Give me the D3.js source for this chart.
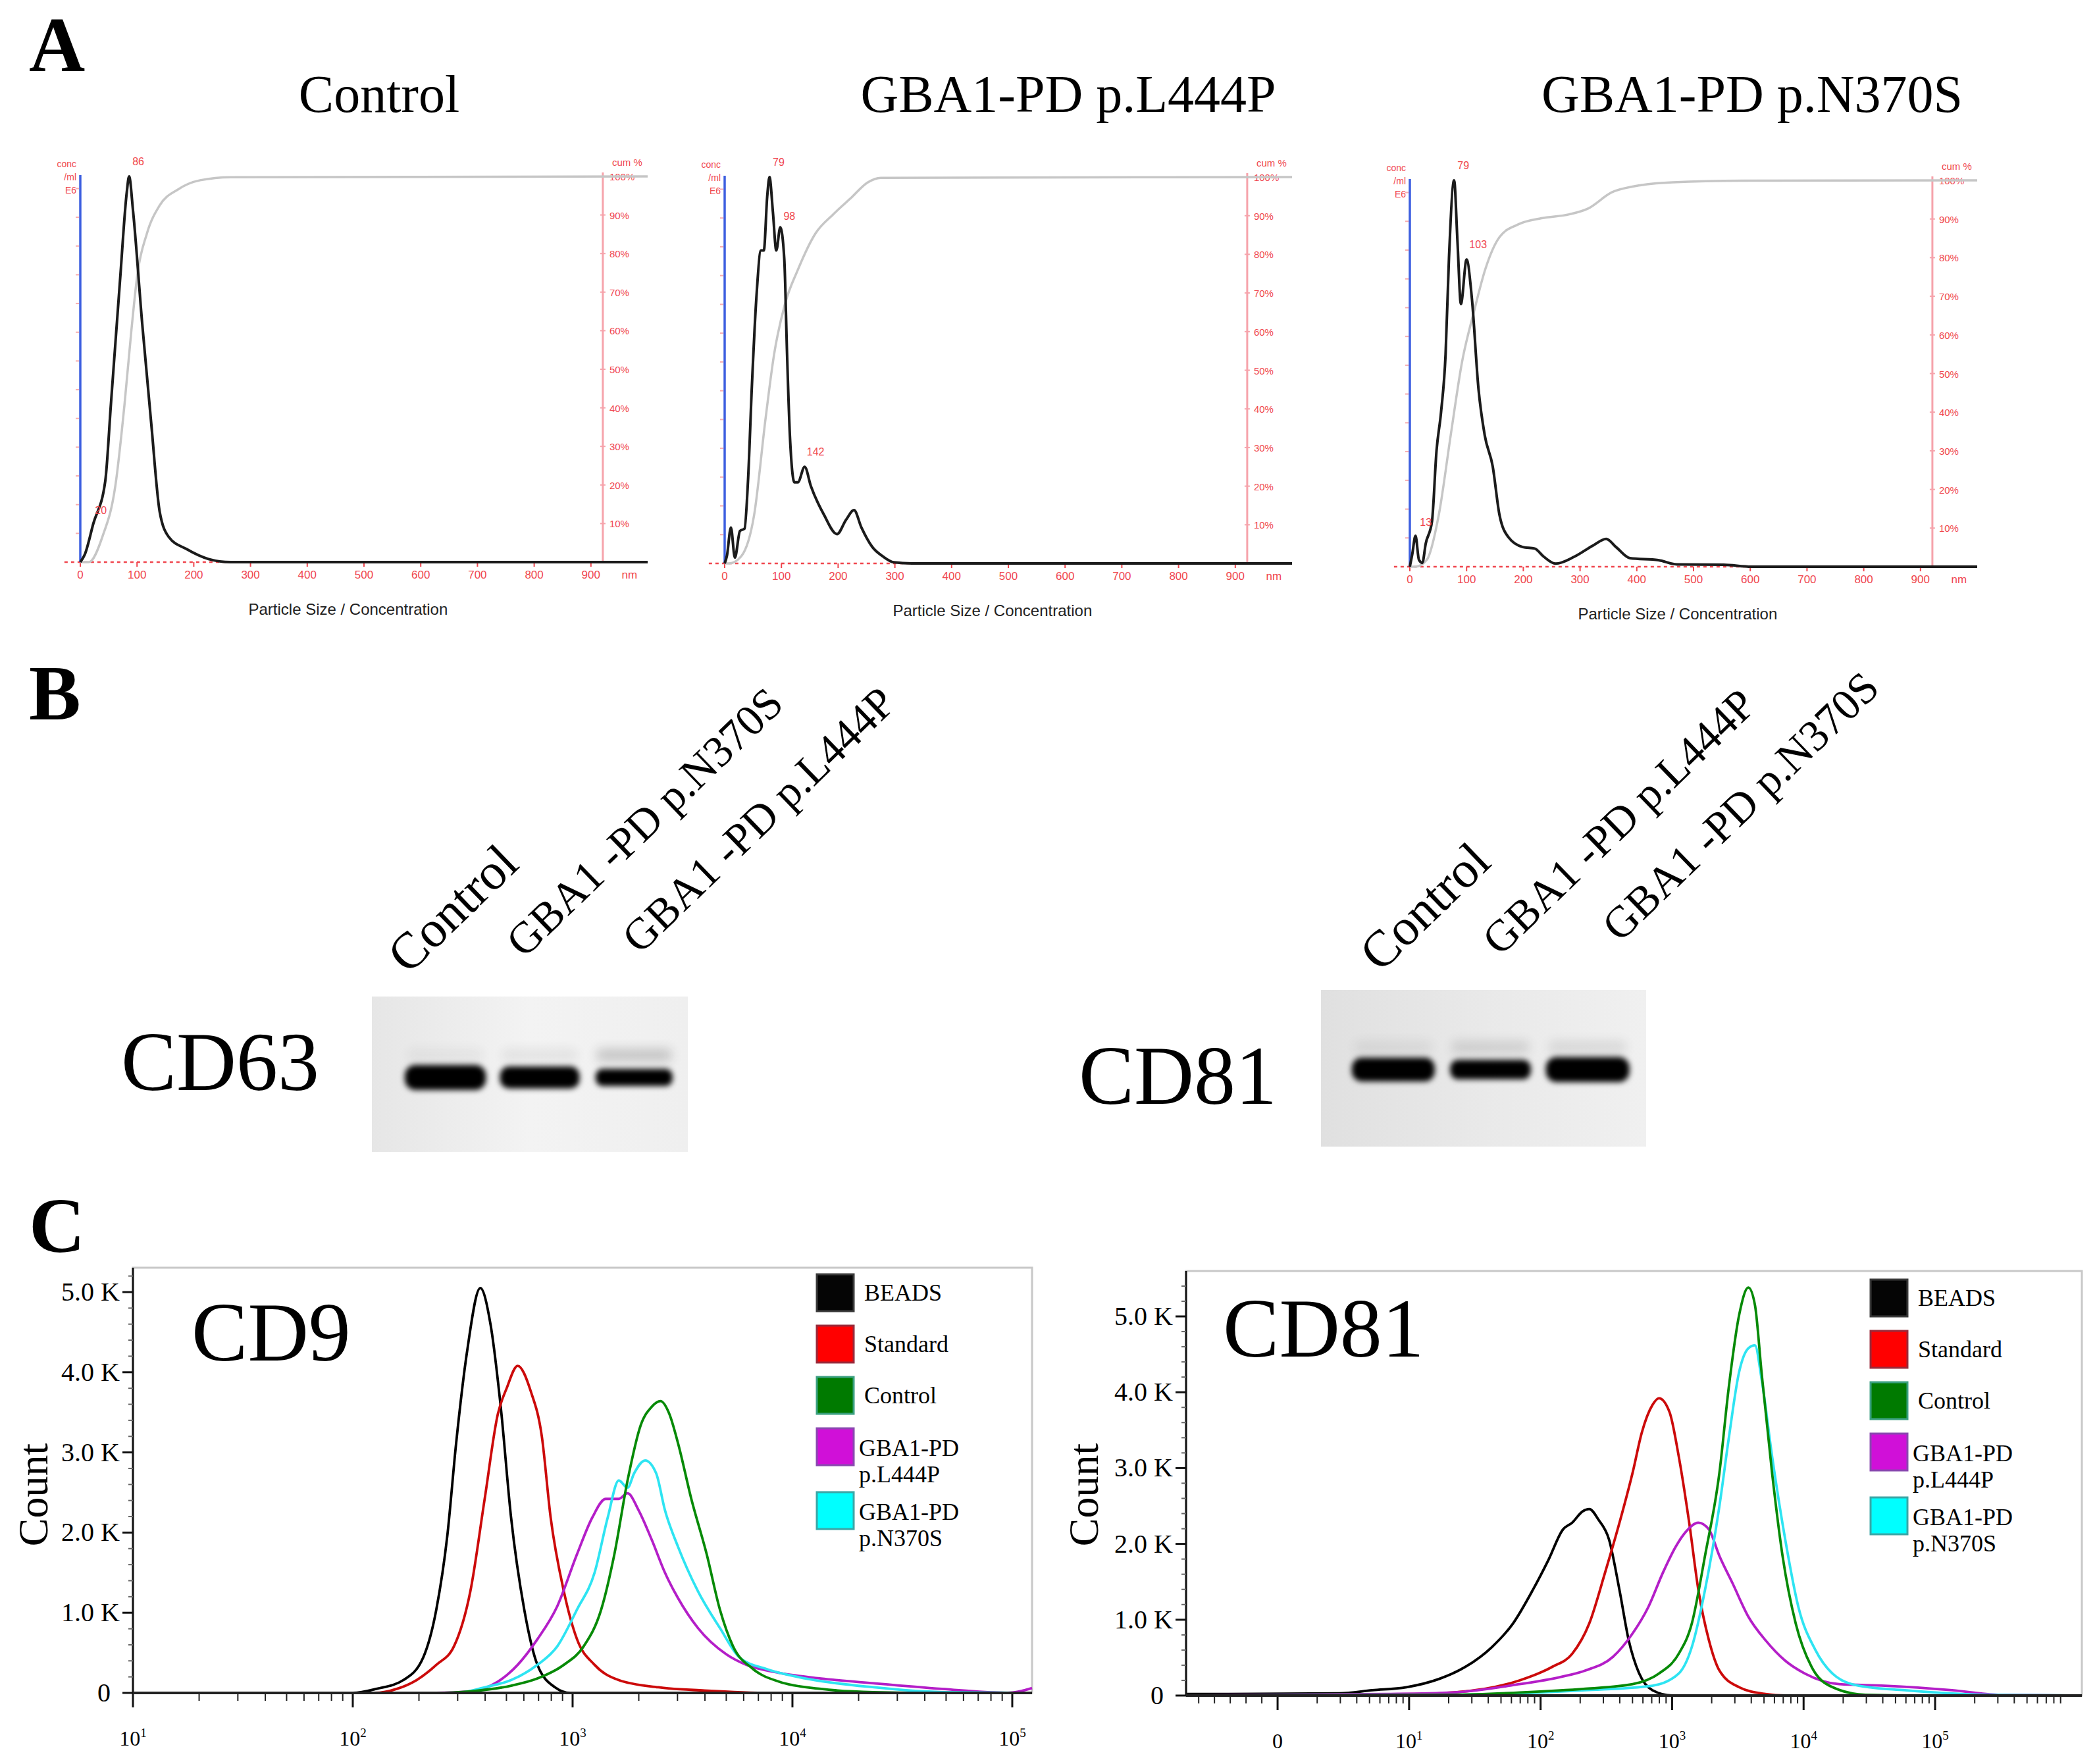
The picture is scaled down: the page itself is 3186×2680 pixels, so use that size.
<!DOCTYPE html>
<html>
<head>
<meta charset="utf-8">
<title>EV characterisation</title>
<script src="https://cdn.jsdelivr.net/npm/d3@7/dist/d3.min.js"></script>
<style>
  body { margin: 0; background: #fff; }
  svg { display: block; }
</style>
</head>
<body>
<svg id="fig" width="3186" height="2680"></svg>
<script>
// ---------------- Panel A: NTA size distributions ----------------
const ntaTitles = ["Control", "GBA1-PD p.L444P", "GBA1-PD p.N370S"];
const ntaSizeTicks = [0, 100, 200, 300, 400, 500, 600, 700, 800, 900];
const ntaCumTicks = [10, 20, 30, 40, 50, 60, 70, 80, 90, 100];

// control (size nm / relative concentration, cumulative %)
const ctrlSize = [0, 8, 23, 44, 54, 70, 82, 86, 93, 109, 125, 140, 156, 187, 226, 265, 300, 1000];
const ctrlConc = [0, 0.02, 0.10, 0.21, 0.41, 0.73, 0.96, 1.00, 0.91, 0.62, 0.36, 0.13, 0.065, 0.034, 0.008, 0, 0, 0];
const ctrlCumSize = [0, 15, 39, 62, 78, 90, 101, 117, 140, 172, 211, 265, 1000];
const ctrlCum = [0, 0, 6.6, 20, 41, 60, 75, 85, 92.5, 96.6, 99, 99.8, 100];
const ctrlPeakNm = [86, 20];
const ctrlPeakVal = [1.0, 0.096];
const ctrlPeakText = ["86", "20"];

// GBA1-PD p.L444P
const l444pSize = [0, 4, 11, 18, 27, 35, 41, 48, 56, 64, 69, 75, 79, 85, 91, 98, 105, 110, 115, 123, 129, 141, 152, 175, 198, 214, 228, 241, 260, 279, 298, 330, 1000];
const l444pConc = [0, 0.02, 0.093, 0.015, 0.084, 0.09, 0.21, 0.46, 0.69, 0.81, 0.81, 0.95, 1.0, 0.91, 0.81, 0.87, 0.79, 0.54, 0.33, 0.21, 0.21, 0.25, 0.2, 0.126, 0.076, 0.113, 0.138, 0.093, 0.043, 0.018, 0.003, 0, 0];
const l444pCumSize = [0, 8, 29, 52, 72, 87, 106, 129, 160, 191, 222, 252, 275, 1000];
const l444pCum = [0, 0, 1.8, 12.6, 37.4, 54, 67, 76, 85.4, 90.3, 94.5, 98.6, 99.8, 100];
const l444pPeakNm = [79, 98, 139];
const l444pPeakVal = [1.0, 0.86, 0.25];
const l444pPeakText = ["79", "98", "142"];

// GBA1-PD p.N370S
const n370sSize = [0, 4, 10, 16, 22, 28, 39, 47, 55, 63, 69, 78, 84, 90, 100, 109, 121, 132, 146, 158, 174, 199, 220, 236, 257, 290, 323, 346, 364, 388, 438, 471, 553, 602, 1000];
const n370sConc = [0, 0.03, 0.08, 0.018, 0.01, 0.06, 0.117, 0.3, 0.4, 0.55, 0.8, 1.0, 0.84, 0.68, 0.795, 0.7, 0.46, 0.34, 0.26, 0.134, 0.076, 0.051, 0.047, 0.026, 0.008, 0.026, 0.055, 0.072, 0.05, 0.022, 0.017, 0.006, 0.005, 0, 0];
const n370sCumSize = [0, 10, 30, 51, 72, 92, 113, 133, 158, 191, 232, 281, 314, 356, 397, 463, 586, 1000];
const n370sCum = [0, 0, 1.8, 13.4, 34, 53, 66, 77, 85.3, 88.6, 90.2, 91.2, 92.7, 96.9, 98.5, 99.5, 99.9, 100];
const n370sPeakNm = [78, 99, 12];
const n370sPeakVal = [1.0, 0.795, 0.077];
const n370sPeakText = ["79", "103", "13"];

// ---------------- Panel B: western blots ----------------
const cd63Lanes = ["Control", "GBA1 -PD p.N370S", "GBA1 -PD p.L444P"];
const cd63Band = [1.0, 0.88, 0.68];
const cd63Upper = [0.05, 0.07, 0.2];
const cd81Lanes = ["Control", "GBA1 -PD p.L444P", "GBA1 -PD p.N370S"];
const cd81Band = [0.95, 0.78, 1.0];
const cd81Upper = [0.07, 0.13, 0.1];

// ---------------- Panel C: flow cytometry histograms ----------------
const flowSeries = ["BEADS", "Standard", "Control", "GBA1-PD p.L444P", "GBA1-PD p.N370S"];
const legendLines = [["BEADS"], ["Standard"], ["Control"], ["GBA1-PD", "p.L444P"], ["GBA1-PD", "p.N370S"]];
const countTicks = [0, 1, 2, 3, 4, 5];

// CD9 (x = log10 intensity, y = count in thousands)
const cd9BeadsX = [1, 2.0, 2.107, 2.23, 2.32, 2.38, 2.43, 2.47, 2.52, 2.58, 2.627, 2.673, 2.72, 2.78, 2.84, 2.92, 2.99, 5.09];
const cd9BeadsY = [0, 0, 0.05, 0.16, 0.44, 1.04, 1.96, 3.11, 4.26, 5.05, 4.59, 3.57, 2.19, 1.04, 0.35, 0.07, 0, 0];
const cd9StdX = [1, 2.1, 2.2, 2.29, 2.38, 2.46, 2.535, 2.6, 2.66, 2.70, 2.75, 2.81, 2.86, 2.90, 2.96, 3.02, 3.10, 3.21, 3.39, 3.6, 3.9, 5.09];
const cd9StdY = [0, 0, 0.05, 0.16, 0.35, 0.58, 1.27, 2.42, 3.48, 3.8, 4.08, 3.76, 3.2, 2.19, 1.27, 0.67, 0.35, 0.16, 0.07, 0.03, 0, 0];
const cd9CtrlX = [1, 2.38, 2.535, 2.72, 2.84, 2.96, 3.05, 3.13, 3.19, 3.25, 3.31, 3.36, 3.40, 3.44, 3.48, 3.54, 3.61, 3.67, 3.73, 3.82, 3.94, 4.13, 4.37, 4.68, 5.09];
const cd9CtrlY = [0, 0, 0.02, 0.09, 0.18, 0.35, 0.58, 1.04, 1.73, 2.65, 3.34, 3.57, 3.64, 3.48, 3.11, 2.42, 1.73, 1.04, 0.58, 0.30, 0.14, 0.05, 0.01, 0, 0];
const cd9L444pX = [1, 2.38, 2.535, 2.66, 2.75, 2.84, 2.93, 3.02, 3.09, 3.15, 3.21, 3.25, 3.30, 3.36, 3.42, 3.48, 3.57, 3.70, 3.79, 3.94, 4.13, 4.37, 4.68, 4.98, 5.09];
const cd9L444pY = [0, 0, 0.02, 0.14, 0.35, 0.67, 1.08, 1.73, 2.19, 2.42, 2.42, 2.49, 2.28, 1.91, 1.5, 1.18, 0.81, 0.48, 0.35, 0.25, 0.18, 0.12, 0.05, 0, 0.06];
const cd9N370sX = [1, 2.47, 2.6, 2.72, 2.84, 2.93, 3.02, 3.10, 3.16, 3.21, 3.25, 3.28, 3.33, 3.38, 3.42, 3.48, 3.57, 3.67, 3.76, 3.88, 4.06, 4.37, 4.68, 5.09];
const cd9N370sY = [0, 0, 0.07, 0.16, 0.35, 0.58, 1.04, 1.5, 2.19, 2.65, 2.56, 2.74, 2.9, 2.74, 2.28, 1.82, 1.27, 0.81, 0.44, 0.30, 0.18, 0.07, 0.01, 0];

// CD81
const cd81BeadsX = [-0.69, 0.47, 0.72, 0.98, 1.23, 1.43, 1.63, 1.79, 1.94, 2.06, 2.17, 2.24, 2.32, 2.37, 2.44, 2.52, 2.6, 2.67, 2.75, 2.85, 3.0, 6.1];
const cd81BeadsY = [0.02, 0.03, 0.07, 0.11, 0.22, 0.38, 0.64, 0.95, 1.39, 1.79, 2.19, 2.28, 2.43, 2.46, 2.32, 2.06, 1.39, 0.73, 0.29, 0.07, 0, 0];
const cd81StdX = [-0.69, 1.08, 1.58, 1.84, 2.09, 2.24, 2.37, 2.49, 2.6, 2.7, 2.77, 2.85, 2.9, 2.98, 3.05, 3.13, 3.2, 3.28, 3.36, 3.51, 3.71, 3.86, 6.1];
const cd81StdY = [0, 0.02, 0.09, 0.2, 0.38, 0.55, 0.95, 1.62, 2.28, 2.94, 3.47, 3.83, 3.92, 3.74, 3.16, 2.28, 1.39, 0.73, 0.33, 0.11, 0.02, 0, 0];
const cd81CtrlX = [-0.69, 1.33, 1.84, 2.34, 2.7, 2.9, 3.05, 3.15, 3.25, 3.36, 3.43, 3.51, 3.58, 3.63, 3.68, 3.76, 3.84, 3.94, 4.06, 4.22, 4.47, 4.87, 6.1];
const cd81CtrlY = [0, 0.01, 0.04, 0.09, 0.15, 0.29, 0.55, 0.95, 1.84, 2.94, 4.05, 5.02, 5.38, 5.15, 4.27, 2.94, 1.84, 0.95, 0.38, 0.11, 0.01, 0, 0];
const cd81L444pX = [-0.69, 0.82, 1.33, 1.84, 2.14, 2.34, 2.55, 2.7, 2.82, 2.93, 3.03, 3.1, 3.2, 3.28, 3.36, 3.46, 3.58, 3.71, 3.86, 4.01, 4.27, 4.62, 5.13, 5.48, 6.1];
const cd81L444pY = [0, 0.02, 0.04, 0.15, 0.24, 0.33, 0.51, 0.82, 1.17, 1.62, 1.97, 2.15, 2.28, 2.19, 1.84, 1.48, 1.04, 0.73, 0.46, 0.29, 0.15, 0.13, 0.07, 0.01, 0];
const cd81N370sX = [-0.69, 1.33, 2.34, 2.85, 3.05, 3.15, 3.25, 3.36, 3.43, 3.51, 3.58, 3.63, 3.68, 3.76, 3.86, 3.96, 4.09, 4.22, 4.42, 4.77, 5.38, 6.1];
const cd81N370sY = [0, 0.01, 0.07, 0.13, 0.29, 0.64, 1.39, 2.5, 3.38, 4.27, 4.58, 4.62, 4.18, 3.16, 2.06, 1.17, 0.6, 0.29, 0.13, 0.07, 0.01, 0];

// ---------------- rendering ----------------
const fig = d3.select("#fig");
const serif = "'Liberation Serif','Times New Roman',serif";
const sans = "'Liberation Sans',Arial,sans-serif";
const ntaRed = "#f0464e";

fig.append("rect").attr("width", 3186).attr("height", 2680).attr("fill", "#fff");

const defs = fig.append("defs");
defs.append("filter").attr("id", "blur4").attr("x", "-30%").attr("y", "-80%").attr("width", "160%").attr("height", "260%")
  .append("feGaussianBlur").attr("stdDeviation", 4);
defs.append("filter").attr("id", "blur8").attr("x", "-30%").attr("y", "-150%").attr("width", "160%").attr("height", "400%")
  .append("feGaussianBlur").attr("stdDeviation", 8);

// panel letters
const panelLetters = ["A", "B", "C"];
const letterY = [108, 1093, 1902];
fig.selectAll("text.letter").data(panelLetters).join("text")
  .attr("class", "letter")
  .attr("x", 44).attr("y", (d, i) => letterY[i])
  .attr("font-family", serif).attr("font-weight", "bold").attr("font-size", 118)
  .text(d => d);

// ---- Panel A ----
const ntaData = [
  { size: ctrlSize, conc: ctrlConc, cumSize: ctrlCumSize, cum: ctrlCum, pNm: ctrlPeakNm, pVal: ctrlPeakVal, pText: ctrlPeakText },
  { size: l444pSize, conc: l444pConc, cumSize: l444pCumSize, cum: l444pCum, pNm: l444pPeakNm, pVal: l444pPeakVal, pText: l444pPeakText },
  { size: n370sSize, conc: n370sConc, cumSize: n370sCumSize, cum: n370sCum, pNm: n370sPeakNm, pVal: n370sPeakVal, pText: n370sPeakText }
];
const ntaLayout = [
  { x0: 122, top: 268, base: 854, cx: 576 },
  { x0: 1101, top: 269, base: 856, cx: 1623 },
  { x0: 2142, top: 274, base: 861, cx: 2662 }
];

ntaData.forEach((d, i) => drawNta(ntaTitles[i], d, ntaLayout[i]));

function drawNta(title, d, L) {
  const g = fig.append("g");
  const x = d3.scaleLinear().domain([0, 1000]).range([L.x0, L.x0 + 862]);
  const y = d3.scaleLinear().domain([0, 1]).range([L.base, L.top]);
  const yc = d3.scaleLinear().domain([0, 100]).range([L.base, L.top]);

  g.append("text")
    .attr("x", L.cx).attr("y", 170)
    .attr("text-anchor", "middle")
    .attr("font-family", serif).attr("font-size", 80)
    .text(title);

  // bottom axis: dashed red line, ticks, labels
  g.append("line")
    .attr("x1", x(-28)).attr("x2", x(1000))
    .attr("y1", L.base).attr("y2", L.base)
    .attr("stroke", ntaRed).attr("stroke-width", 2.5)
    .attr("stroke-dasharray", "5,5");
  g.selectAll("line.xt").data(ntaSizeTicks).join("line")
    .attr("class", "xt")
    .attr("x1", t => x(t)).attr("x2", t => x(t))
    .attr("y1", L.base).attr("y2", L.base + 7)
    .attr("stroke", ntaRed).attr("stroke-width", 2);
  g.selectAll("text.xl").data(ntaSizeTicks).join("text")
    .attr("class", "xl")
    .attr("x", t => x(t)).attr("y", L.base + 25)
    .attr("text-anchor", "middle")
    .attr("font-family", sans).attr("font-size", 17)
    .attr("fill", ntaRed)
    .text(t => t);
  g.append("text")
    .attr("x", x(968)).attr("y", L.base + 25)
    .attr("text-anchor", "middle")
    .attr("font-family", sans).attr("font-size", 17)
    .attr("fill", ntaRed)
    .text("nm");
  g.append("text")
    .attr("x", x(472)).attr("y", L.base + 80)
    .attr("text-anchor", "middle")
    .attr("font-family", sans).attr("font-size", 24)
    .attr("fill", "#222")
    .text("Particle Size / Concentration");

  // right cumulative axis
  const xr = x(921);
  g.append("line")
    .attr("x1", xr).attr("x2", xr)
    .attr("y1", L.top - 6).attr("y2", L.base)
    .attr("stroke", "#f6a3ab").attr("stroke-width", 3);
  g.selectAll("line.rt").data(ntaCumTicks).join("line")
    .attr("class", "rt")
    .attr("x1", xr - 4).attr("x2", xr + 4)
    .attr("y1", t => yc(t)).attr("y2", t => yc(t))
    .attr("stroke", "#f6a3ab").attr("stroke-width", 2);
  g.selectAll("text.rl").data(ntaCumTicks).join("text")
    .attr("class", "rl")
    .attr("x", xr + 10).attr("y", t => yc(t) + 6)
    .attr("font-family", sans).attr("font-size", 15)
    .attr("fill", ntaRed)
    .text(t => t + "%");
  g.append("text")
    .attr("x", xr + 14).attr("y", L.top - 16)
    .attr("font-family", sans).attr("font-size", 15)
    .attr("fill", ntaRed)
    .text("cum %");

  // left concentration axis
  g.selectAll("line.lt").data(d3.range(1, 14)).join("line")
    .attr("class", "lt")
    .attr("x1", L.x0 - 7).attr("x2", L.x0 - 2)
    .attr("y1", k => y(k * 0.0745)).attr("y2", k => y(k * 0.0745))
    .attr("stroke", ntaRed).attr("stroke-opacity", 0.45).attr("stroke-width", 2);
  g.append("line")
    .attr("x1", L.x0).attr("x2", L.x0)
    .attr("y1", L.top - 2).attr("y2", L.base)
    .attr("stroke", "#3d5fe0").attr("stroke-width", 3.5);
  g.selectAll("text.unit").data(["conc", "/ml", "E6"]).join("text")
    .attr("class", "unit")
    .attr("x", L.x0 - 6).attr("y", (u, i) => L.top - 14 + i * 20)
    .attr("text-anchor", "end")
    .attr("font-family", sans).attr("font-size", 14)
    .attr("fill", ntaRed)
    .text(u => u);

  // curves
  const cumPts = d.cumSize.map((s, i) => [s, d.cum[i]]);
  const concPts = d.size.map((s, i) => [s, d.conc[i]]);
  g.append("path")
    .attr("d", d3.line().x(p => x(p[0])).y(p => yc(p[1])).curve(d3.curveMonotoneX)(cumPts))
    .attr("fill", "none").attr("stroke", "#c6c6c6").attr("stroke-width", 3.5);
  g.append("path")
    .attr("d", d3.line().x(p => x(p[0])).y(p => y(p[1])).curve(d3.curveMonotoneX)(concPts))
    .attr("fill", "none").attr("stroke", "#1b1b1b").attr("stroke-width", 4)
    .attr("stroke-linejoin", "round");

  // peak labels
  g.selectAll("text.pk").data(d.pText).join("text")
    .attr("class", "pk")
    .attr("x", (t, i) => x(d.pNm[i]) + 5)
    .attr("y", (t, i) => y(d.pVal[i]) - 17)
    .attr("font-family", sans).attr("font-size", 16)
    .attr("fill", ntaRed)
    .text(t => t);
}

// ---- Panel B ----
const blotLayout = [
  { name: "CD63", lanes: cd63Lanes, band: cd63Band, upper: cd63Upper,
    nameX: 184, nameY: 1656, box: [565, 1514, 480, 236], laneRange: [605, 1035], bandY: 1637,
    labelRange: [620, 972], labelY: [1482, 1457, 1451], grad: ["#e6e6e6", "#f3f3f3", "#efefef"] },
  { name: "CD81", lanes: cd81Lanes, band: cd81Band, upper: cd81Upper,
    nameX: 1639, nameY: 1677, box: [2007, 1504, 494, 238], laneRange: [2043, 2486], bandY: 1625,
    labelRange: [2097, 2461], labelY: [1479, 1454, 1433], grad: ["#e0e0e0", "#e9e9e9", "#f0f0f0"] }
];

blotLayout.forEach((b, bi) => {
  const g = fig.append("g");
  const gid = "blotGrad" + bi;
  const lg = defs.append("linearGradient").attr("id", gid);
  b.grad.forEach((c, i) => lg.append("stop").attr("offset", (i / (b.grad.length - 1) * 100) + "%").attr("stop-color", c));

  g.append("text")
    .attr("x", b.nameX).attr("y", b.nameY)
    .attr("font-family", serif).attr("font-size", 126)
    .text(b.name);

  g.append("rect")
    .attr("x", b.box[0]).attr("y", b.box[1])
    .attr("width", b.box[2]).attr("height", b.box[3])
    .attr("fill", "url(#" + gid + ")");

  const xb = d3.scaleBand().domain(b.lanes).range(b.laneRange);
  const bw = xb.bandwidth();

  // faint upper smear
  g.selectAll("rect.up").data(b.lanes).join("rect")
    .attr("class", "up")
    .attr("x", l => xb(l) + bw * 0.1).attr("width", bw * 0.8)
    .attr("y", b.bandY - 44).attr("height", 20)
    .attr("rx", 8)
    .attr("fill", "#222")
    .attr("opacity", (l, i) => b.upper[i])
    .attr("filter", "url(#blur8)");
  // main bands
  g.selectAll("rect.band").data(b.lanes).join("rect")
    .attr("class", "band")
    .attr("x", (l, i) => xb(l) + bw * (0.5 - (0.36 + 0.07 * b.band[i])))
    .attr("width", (l, i) => bw * 2 * (0.36 + 0.07 * b.band[i]))
    .attr("y", (l, i) => b.bandY - 19 * b.band[i])
    .attr("height", (l, i) => 38 * b.band[i])
    .attr("rx", (l, i) => 16 * b.band[i])
    .attr("fill", "#060606")
    .attr("filter", "url(#blur4)");

  const xl = d3.scalePoint().domain(b.lanes).range(b.labelRange);
  g.selectAll("text.lane").data(b.lanes).join("text")
    .attr("class", "lane")
    .attr("transform", (l, i) => `translate(${xl(l)},${b.labelY[i]}) rotate(-44)`)
    .attr("font-family", serif)
    .attr("font-size", l => l === "Control" ? 78 : 67)
    .text(l => l);
});

// ---- Panel C ----
const flowData = [
  { xs: [cd9BeadsX, cd9StdX, cd9CtrlX, cd9L444pX, cd9N370sX], ys: [cd9BeadsY, cd9StdY, cd9CtrlY, cd9L444pY, cd9N370sY] },
  { xs: [cd81BeadsX, cd81StdX, cd81CtrlX, cd81L444pX, cd81N370sX], ys: [cd81BeadsY, cd81StdY, cd81CtrlY, cd81L444pY, cd81N370sY] }
];
const flowLayout = [
  { marker: "CD9", left: 202, right: 1568, top: 1926, axisY: 2572, y5: 1963, xDom: [1, 5.09], xTicks: [1, 2, 3, 4, 5],
    countX: 72, markerX: 291, markerY: 2067, legX: 1241, legY: 1936 },
  { marker: "CD81", left: 1802, right: 3163, top: 1931, axisY: 2576, y5: 2000, xDom: [-0.696, 6.116], xTicks: [0, 1, 2, 3, 4, 5],
    countX: 1668, markerX: 1858, markerY: 2061, legX: 2842, legY: 1944 }
];
const lineColors = ["#000000", "#cc0a0a", "#078a07", "#b41ec8", "#2ee4f2"];
const legendFill = ["#050505", "#ff0000", "#007a00", "#d010d8", "#00ffff"];
const legendEdge = ["#3a3a3a", "#9a2a3a", "#3aa080", "#8a48b0", "#3aa6a6"];
const drawOrder = [0, 1, 3, 4, 2];

flowData.forEach((fd, fi) => drawFlow(fd, flowLayout[fi]));

function drawFlow(fd, L) {
  const g = fig.append("g");
  const x = d3.scaleLinear().domain(L.xDom).range([L.left, L.right]);
  const y = d3.scaleLinear().domain([0, 5]).range([L.axisY, L.y5]);
  const yMax = y.invert(L.top);

  // light frame
  g.append("rect")
    .attr("x", L.left).attr("y", L.top)
    .attr("width", L.right - L.left).attr("height", L.axisY - L.top)
    .attr("fill", "none").attr("stroke", "#c8c8c8").attr("stroke-width", 3);

  // histograms
  const line = d3.line().x(p => x(p[0])).y(p => y(p[1])).curve(d3.curveMonotoneX);
  drawOrder.forEach(si => {
    const pts = fd.xs[si].map((v, i) => [v, fd.ys[si][i]]);
    g.append("path")
      .attr("d", line(pts))
      .attr("fill", "none")
      .attr("stroke", lineColors[si])
      .attr("stroke-width", 3.8)
      .attr("stroke-linejoin", "round");
  });

  // y axis
  g.append("line")
    .attr("x1", L.left).attr("x2", L.left)
    .attr("y1", L.top).attr("y2", L.axisY)
    .attr("stroke", "#111").attr("stroke-width", 3);
  const minorY = d3.range(0.2, yMax, 0.2).filter(v => Math.abs(v - Math.round(v)) > 0.05);
  g.selectAll("line.ym").data(minorY).join("line")
    .attr("class", "ym")
    .attr("x1", L.left - 7).attr("x2", L.left)
    .attr("y1", v => y(v)).attr("y2", v => y(v))
    .attr("stroke", "#666").attr("stroke-width", 2);
  g.selectAll("line.yt").data(countTicks).join("line")
    .attr("class", "yt")
    .attr("x1", L.left - 16).attr("x2", L.left)
    .attr("y1", v => y(v)).attr("y2", v => y(v))
    .attr("stroke", "#111").attr("stroke-width", 3);
  g.selectAll("text.yl").data(countTicks).join("text")
    .attr("class", "yl")
    .attr("x", v => v === 0 ? L.left - 34 : L.left - 20)
    .attr("y", v => y(v) + 13)
    .attr("text-anchor", "end")
    .attr("font-family", serif).attr("font-size", 40)
    .text(v => v === 0 ? "0" : v.toFixed(1) + " K");

  g.append("text")
    .attr("transform", `translate(${L.countX},2271) rotate(-90)`)
    .attr("text-anchor", "middle")
    .attr("font-family", serif).attr("font-size", 64)
    .text("Count");

  // x axis
  const minorX = [];
  for (let n = Math.floor(L.xDom[0]); n < L.xDom[1]; n++) {
    for (let k = 2; k <= 9; k++) {
      const v = n + Math.log10(k);
      if (n >= 0 && v > L.xDom[0] && v < L.xDom[1]) minorX.push(v);
    }
  }
  if (L.xDom[0] < 0) d3.range(-0.12, L.xDom[0], -0.12).forEach(v => minorX.push(v));
  g.selectAll("line.xm").data(minorX).join("line")
    .attr("class", "xm")
    .attr("x1", v => x(v)).attr("x2", v => x(v))
    .attr("y1", L.axisY).attr("y2", L.axisY + 12)
    .attr("stroke", "#222").attr("stroke-width", 2);
  g.selectAll("line.xt").data(L.xTicks).join("line")
    .attr("class", "xt")
    .attr("x1", v => x(v)).attr("x2", v => x(v))
    .attr("y1", L.axisY).attr("y2", L.axisY + 22)
    .attr("stroke", "#111").attr("stroke-width", 3);
  g.append("line")
    .attr("x1", L.left).attr("x2", L.right)
    .attr("y1", L.axisY).attr("y2", L.axisY)
    .attr("stroke", "#222").attr("stroke-width", 4);

  const xl = g.selectAll("text.xl").data(L.xTicks).join("text")
    .attr("class", "xl")
    .attr("x", v => x(v)).attr("y", L.axisY + 80)
    .attr("text-anchor", "middle")
    .attr("font-family", serif).attr("font-size", 32);
  xl.each(function (v) {
    const t = d3.select(this);
    if (v === 0) { t.text("0"); return; }
    t.append("tspan").text("10");
    t.append("tspan").attr("font-size", 19).attr("dy", -13).text(v);
  });

  // marker name
  g.append("text")
    .attr("x", L.markerX).attr("y", L.markerY)
    .attr("font-family", serif).attr("font-size", 128)
    .text(L.marker);

  // legend
  let ly = L.legY;
  flowSeries.forEach((s, i) => {
    const lines = legendLines[i];
    g.append("rect")
      .attr("x", L.legX).attr("y", ly)
      .attr("width", 56).attr("height", 56)
      .attr("fill", legendFill[i])
      .attr("stroke", legendEdge[i]).attr("stroke-width", 3);
    const t = g.append("text")
      .attr("font-family", serif).attr("font-size", 36);
    if (lines.length === 1) {
      t.attr("x", L.legX + 72).attr("y", ly + 40).text(lines[0]);
    } else {
      lines.forEach((ln, j) => t.append("tspan").attr("x", L.legX + 64).attr("y", ly + 42 + j * 40).text(ln));
    }
    ly += lines.length === 1 ? 78 : 97;
  });
}
</script>
</body>
</html>
